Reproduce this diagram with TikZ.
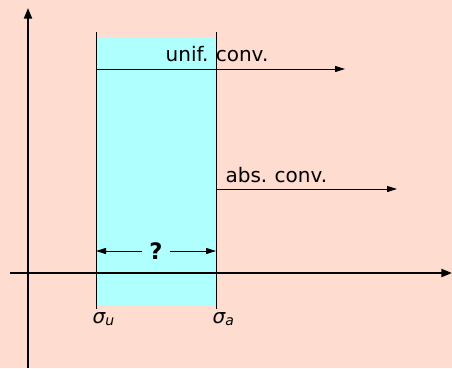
\documentclass[tikz,border=0pt]{standalone}
\usepackage{fontspec}
\setmainfont{DejaVu Sans}
\usetikzlibrary{arrows.meta}
\definecolor{peach}{RGB}{255,220,208}
\definecolor{strip}{RGB}{175,255,255}
\newcommand\lblfont{\fontsize{15}{18}\selectfont\spaceskip=.26em\relax}

\begin{document}
\begin{tikzpicture}[x=0.75pt,y=-0.75pt,>={Triangle[length=7.5pt,width=4.5pt]},
    every node/.style={inner sep=1pt},lbl/.style={font=\lblfont}]
  \fill[peach] (0,0) rectangle (452,368);
  \useasboundingbox (0,0) rectangle (452,368);
  % strip between the two abscissae
  \fill[strip] (96,37) rectangle (216,305);
  \coordinate (ut) at (96,32);  \coordinate (ub) at (96,309);
  \coordinate (at) at (216,32); \coordinate (ab) at (216,309);
  \draw[line width=.75pt] (ut) -- (ub);
  \draw[line width=.75pt] (at) -- (ab);
  % axes
  \coordinate (xs) at (10,273);  \coordinate (xe) at (452,273);
  \coordinate (ys) at (28,368);  \coordinate (ye) at (28,8);
  \draw[-{Triangle[length=8pt,width=6pt]},line width=1.5pt] (xs) -- (xe);
  \draw[-{Triangle[length=8pt,width=6pt]},line width=1.5pt] (ys) -- (ye);
  % half planes
  \coordinate (ue) at (345,69);  \coordinate (ae) at (397,189);
  \draw[->,line width=.75pt] (ut |- ue) -- (ue);
  \draw[->,line width=.75pt] (at |- ae) -- (ae);
  \node[lbl,anchor=base] (unif) at (217,61) {unif. conv.};
  \node[lbl,anchor=base west] (abs) at (224,182) {abs. conv.};
  % unknown width
  \node[font=\fontsize{17}{20}\selectfont\bfseries,inner xsep=5.5pt] (q) at (156,251) {?};
  \draw[->,line width=.75pt] (q) -- (q -| ut);
  \draw[->,line width=.75pt] (q) -- (q -| at);
  \node[lbl,anchor=base west] (su) at (91,323) {\itshape σ\textsubscript{u}};
  \node[lbl,anchor=base west] (sa) at (211,323) {\itshape σ\textsubscript{a}};
\end{tikzpicture}
\end{document}
